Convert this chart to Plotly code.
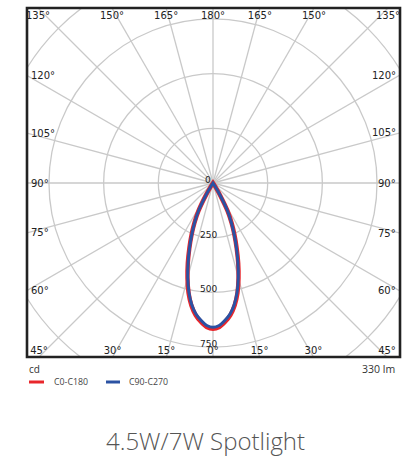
import numpy as np
import plotly.graph_objects as go

# ---- data ----
gamma_deg = [0, 2.5, 5, 7.5, 10, 12.5, 15, 17.5, 20, 22.5, 25, 27.5, 30, 32.5, 35, 40, 45, 90]
c0_c180 = [667, 659, 637, 609, 569, 516, 451, 383, 316, 256, 201, 145, 68, 17, 0, 0, 0, 0]
c90_c270 = [660, 652, 630, 603, 563, 510, 446, 378, 312, 252, 198, 142, 65, 15, 0, 0, 0, 0]
series_names = ["C0-C180", "C90-C270"]
series_colors = ["#e8262b", "#2b52a3"]
ring_values = [250, 500, 750, 1000]
ring_labels = ["0", "250", "500", "750"]
ring_label_values = [0, 250, 500, 750]
angle_ticks = [0, 15, 30, 45, 60, 75, 90, 105, 120, 135, 150, 165, 180]
unit_label = "cd"
flux_label = "330 lm"
title_text = "4.5W/7W Spotlight"

# ---- geometry (pixels) ----
W, H = 404, 461
ML, MR, MT, MB = 27, 4, 8, 104
CX, CY = 213, 183
K = 0.2187  # px per cd
X0 = -(CX - ML) / K
X1 = (W - MR - CX) / K
Y0 = -(H - MB - CY) / K
Y1 = (CY - MT) / K

fig = go.Figure()

grid_color = "#c9c9c9"
shapes = []
for r in ring_values:
    shapes.append(dict(type="circle", xref="x", yref="y", x0=-r, x1=r, y0=-r, y1=r,
                       line=dict(color=grid_color, width=1.3), layer="below"))
R_far = 3000
for a in range(0, 360, 15):
    t = np.radians(a)
    shapes.append(dict(type="line", xref="x", yref="y", x0=0, y0=0,
                       x1=R_far * np.sin(t), y1=-R_far * np.cos(t),
                       line=dict(color=grid_color, width=1.3), layer="below"))
# frame
shapes.append(dict(type="rect", xref="paper", yref="paper", x0=0, x1=1, y0=0, y1=1,
                   line=dict(color="#222222", width=2.6)))


def curve(vals):
    g = np.array(gamma_deg, dtype=float)
    v = np.array(vals, dtype=float)
    ang = np.concatenate([-g[::-1], g[1:]])
    rr = np.concatenate([v[::-1], v[1:]])
    t = np.radians(ang)
    return rr * np.sin(t), -rr * np.cos(t)


widths = [4.4, 3.0]
for vals, name, col, w in zip([c0_c180, c90_c270], series_names, series_colors, widths):
    x, y = curve(vals)
    fig.add_trace(go.Scatter(x=x, y=y, mode="lines", name=name,
                             line=dict(color=col, width=w, shape="spline", smoothing=0.6),
                             showlegend=False, hoverinfo="skip"))

# angle labels
annotations = []
tx, ty, tt = [], [], []
for a in angle_ticks:
    sides = [1] if a in (0, 180) else [-1, 1]
    for s in sides:
        t = np.radians(a)
        dx, dy = s * np.sin(t), -np.cos(t)
        cands = []
        if dx > 1e-9:
            cands.append((X1 / dx, "r"))
        if dx < -1e-9:
            cands.append((X0 / dx, "l"))
        if dy > 1e-9:
            cands.append((Y1 / dy, "t"))
        if dy < -1e-9:
            cands.append((Y0 / dy, "b"))
        tpar, side = min(cands)
        px, py = tpar * dx, tpar * dy
        lab = f"{a}°"
        if side == "t":
            tx.append(px); ty.append(Y1 - 8 / K); tt.append(lab)
        elif side == "b":
            tx.append(px); ty.append(Y0 + 6 / K); tt.append(lab)
        elif side == "l":
            annotations.append(dict(x=X0, y=py, xref="x", yref="y", text=lab, showarrow=False,
                                    xanchor="left", yanchor="middle", xshift=2,
                                    font=dict(family="DejaVu Sans", size=10, color="#222")))
        else:
            annotations.append(dict(x=X1, y=py, xref="x", yref="y", text=lab, showarrow=False,
                                    xanchor="right", yanchor="middle", xshift=-2,
                                    font=dict(family="DejaVu Sans", size=10, color="#222")))
fig.add_trace(go.Scatter(x=tx, y=ty, text=tt, mode="text", textposition="middle center",
                         cliponaxis=True, showlegend=False, hoverinfo="skip",
                         textfont=dict(family="DejaVu Sans", size=10, color="#222")))

# radial value labels
for lab, v in zip(ring_labels, ring_label_values):
    annotations.append(dict(x=-5 / K, y=-v, xref="x", yref="y", text=lab, showarrow=False,
                            xanchor="center", yanchor="middle", yshift=3,
                            font=dict(family="DejaVu Sans", size=9, color="#222")))

# below-frame texts
plot_h = H - MT - MB
plot_w = W - ML - MR


def py2paper(p):
    return (H - MB - p) / plot_h


def px2paper(p):
    return (p - ML) / plot_w


annotations.append(dict(x=px2paper(27), y=py2paper(369), xref="paper", yref="paper", text=unit_label,
                        showarrow=False, xanchor="left", yanchor="middle",
                        font=dict(family="Open Sans", size=10, color="#333")))
annotations.append(dict(x=px2paper(397), y=py2paper(369), xref="paper", yref="paper", text=flux_label,
                        showarrow=False, xanchor="right", yanchor="middle",
                        font=dict(family="Open Sans", size=10.5, color="#333")))

# manual legend
leg_x = [(29, 44, 52), (106, 120, 127)]
for (s0, s1, tx0), name, col in zip(leg_x, series_names, series_colors):
    shapes.append(dict(type="line", xref="paper", yref="paper",
                       x0=px2paper(s0), x1=px2paper(s1), y0=py2paper(382), y1=py2paper(382),
                       line=dict(color=col, width=3)))
    annotations.append(dict(x=px2paper(tx0), y=py2paper(382), xref="paper", yref="paper", text=name,
                            showarrow=False, xanchor="left", yanchor="middle",
                            font=dict(family="Open Sans", size=8.8, color="#444")))

annotations.append(dict(x=px2paper(205), y=py2paper(440), xref="paper", yref="paper", text=title_text,
                        showarrow=False, xanchor="center", yanchor="middle",
                        font=dict(family="Open Sans", size=24, color="#555", weight=300)))

fig.update_layout(
    width=W, height=H,
    margin=dict(l=ML, r=MR, t=MT, b=MB, pad=0),
    paper_bgcolor="white", plot_bgcolor="white",
    xaxis=dict(range=[X0, X1], visible=False, fixedrange=True),
    yaxis=dict(range=[Y0, Y1], visible=False, fixedrange=True),
    shapes=shapes, annotations=annotations,
    showlegend=False,
)

fig.write_html("out.html", config={"displayModeBar": False})

# remove default page margin so the figure sits at the window's top-left corner
with open("out.html", "r", encoding="utf-8") as f:
    html = f.read()
html = html.replace("<body>", '<body style="margin:0;padding:0;overflow:hidden">', 1)
with open("out.html", "w", encoding="utf-8") as f:
    f.write(html)
